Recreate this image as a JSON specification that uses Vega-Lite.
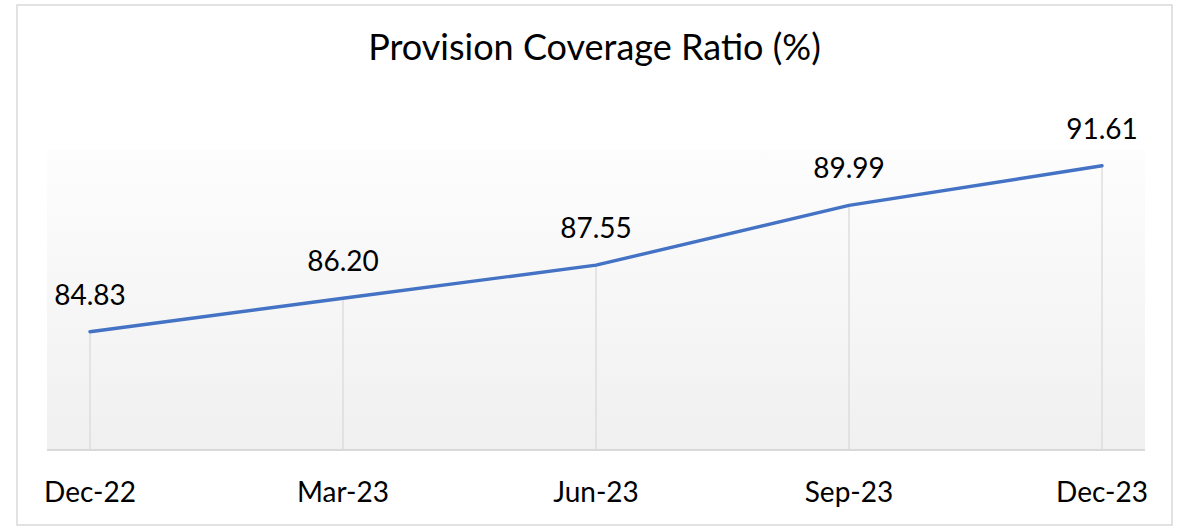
{
  "$schema": "https://vega.github.io/schema/vega-lite/v6.json",
  "width": 1155,
  "height": 520,
  "autosize": {"type": "none"},
  "padding": {"left": 17, "top": 5, "right": 9, "bottom": 2},
  "background": "#ffffff",
  "config": {
    "view": {"stroke": "#d9d9d9", "strokeWidth": 1.5},
    "font": "Lato"
  },
  "title": {
    "text": "Provision Coverage Ratio (%)",
    "font": "Lato",
    "fontSize": 36,
    "fontWeight": "normal",
    "color": "#000000",
    "anchor": "middle",
    "frame": "group",
    "baseline": "alphabetic",
    "offset": -57,
    "dy": 34
  },
  "data": {
    "values": [
      {"quarter": "Dec-22", "idx": 0, "value": 84.83},
      {"quarter": "Mar-23", "idx": 1, "value": 86.20},
      {"quarter": "Jun-23", "idx": 2, "value": 87.55},
      {"quarter": "Sep-23", "idx": 3, "value": 89.99},
      {"quarter": "Dec-23", "idx": 4, "value": 91.61}
    ]
  },
  "layer": [
    {
      "mark": {"type": "rect", "color": {"gradient": "linear", "x1": 0, "y1": 0, "x2": 0, "y2": 1, "stops": [{"offset": 0, "color": "#fdfdfd"}, {"offset": 1, "color": "#f0f0f0"}]}},
      "encoding": {
        "x": {"datum": -0.17, "type": "quantitative", "scale": {"domain": [-0.28854, 4.27668], "nice": false, "zero": false}, "axis": null},
        "x2": {"datum": 4.17},
        "y": {"datum": 92.25, "type": "quantitative", "scale": {"domain": [76.936, 98.178], "nice": false, "zero": false}, "axis": null},
        "y2": {"datum": 80}
      }
    },
    {
      "mark": {"type": "rule", "color": "#d9d9d9", "strokeWidth": 1.5},
      "encoding": {
        "x": {"datum": -0.17, "type": "quantitative"},
        "x2": {"datum": 4.17},
        "y": {"datum": 80, "type": "quantitative"}
      }
    },
    {
      "mark": {"type": "rule", "color": "#d9d9d9", "strokeWidth": 1.25},
      "encoding": {
        "x": {"field": "idx", "type": "quantitative"},
        "y": {"field": "value", "type": "quantitative"},
        "y2": {"datum": 80}
      }
    },
    {
      "mark": {"type": "line", "color": "#4472c4", "strokeWidth": 3.4, "strokeCap": "round", "strokeJoin": "round"},
      "encoding": {
        "x": {"field": "idx", "type": "quantitative"},
        "y": {"field": "value", "type": "quantitative"}
      }
    },
    {
      "mark": {"type": "text", "fontSize": 28, "font": "Lato", "color": "#000000", "baseline": "alphabetic", "align": "center", "dy": -27},
      "encoding": {
        "x": {"field": "idx", "type": "quantitative"},
        "y": {"field": "value", "type": "quantitative"},
        "text": {"field": "value", "type": "quantitative", "format": ".2f"}
      }
    },
    {
      "mark": {"type": "text", "fontSize": 28, "font": "Lato", "color": "#000000", "baseline": "alphabetic", "align": "center"},
      "encoding": {
        "x": {"field": "idx", "type": "quantitative"},
        "y": {"datum": 77.876, "type": "quantitative"},
        "text": {"field": "quarter", "type": "nominal"}
      }
    }
  ]
}
